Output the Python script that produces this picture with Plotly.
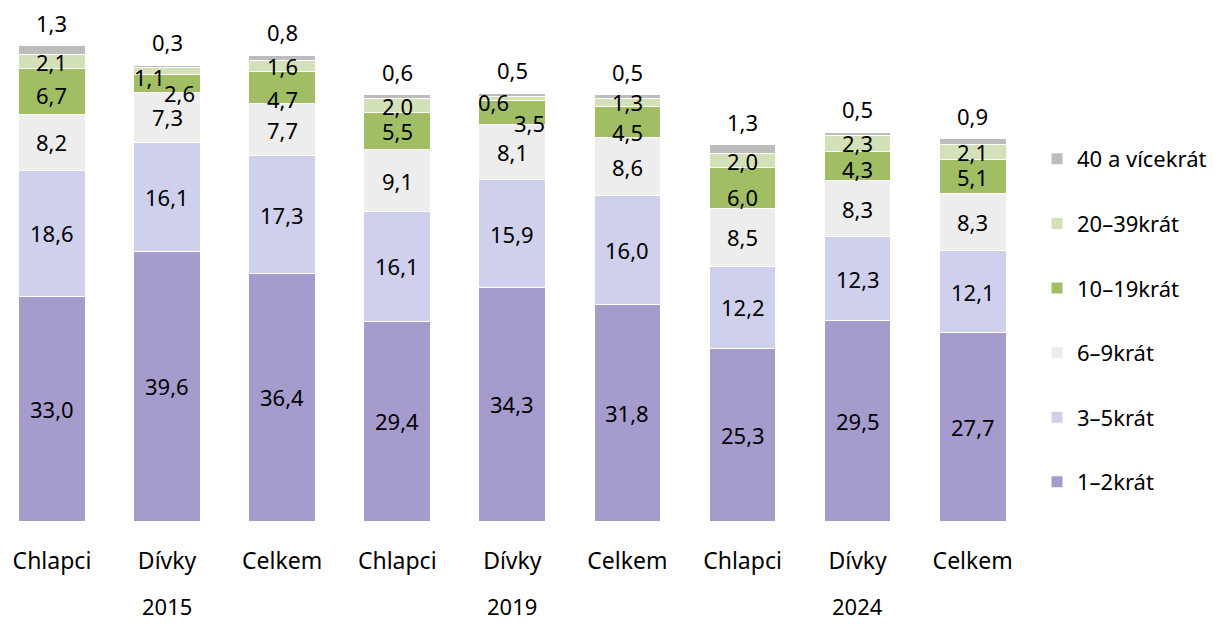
import plotly.graph_objects as go

categories = ["Chlapci", "Dívky", "Celkem", "Chlapci", "Dívky", "Celkem", "Chlapci", "Dívky", "Celkem"]
years = ["2015", "2019", "2024"]

s_1_2 = [33.0, 39.6, 36.4, 29.4, 34.3, 31.8, 25.3, 29.5, 27.7]
s_3_5 = [18.6, 16.1, 17.3, 16.1, 15.9, 16.0, 12.2, 12.3, 12.1]
s_6_9 = [8.2, 7.3, 7.7, 9.1, 8.1, 8.6, 8.5, 8.3, 8.3]
s_10_19 = [6.7, 2.6, 4.7, 5.5, 3.5, 4.5, 6.0, 4.3, 5.1]
s_20_39 = [2.1, 1.1, 1.6, 2.0, 0.6, 1.3, 2.0, 2.3, 2.1]
s_40 = [1.3, 0.3, 0.8, 0.6, 0.5, 0.5, 1.3, 0.5, 0.9]

series_names = ["1–2krát", "3–5krát", "6–9krát", "10–19krát", "20–39krát", "40 a vícekrát"]
series_values = [s_1_2, s_3_5, s_6_9, s_10_19, s_20_39, s_40]
colors = ["#A59BCD", "#CFD0EB", "#EDEDED", "#A1BE65", "#D3E1B9", "#BCBCBC"]

# label nudges (px) for crowded segments: (category index, series index) -> (dx, dy)
nudges = {
    (0, 3): (0, -3),
    (1, 4): (-18, -6), (1, 3): (12, -9),
    (2, 3): (0, -11),
    (4, 4): (-19, -3), (4, 3): (17, -10),
    (5, 3): (0, -10),
    (6, 3): (0, -9),
    (7, 3): (0, -3),
}

FONT = "Noto Sans"
FS = 22
FS_TXT = 23
FS_LEG = 22

W, H = 1205, 611  # page adds an 8px body margin around the figure

def fmt(v):
    return f"{v:.1f}".replace(".", ",")

x = list(range(len(categories)))
fig = go.Figure()
n = len(series_names)
for i, (name, vals, col) in enumerate(zip(series_names, series_values, colors)):
    fig.add_trace(go.Bar(
        x=x, y=vals, name=name, marker=dict(color=col, line=dict(color="white", width=1)),
        width=0.58, legendgroup=name, legendrank=n - i, hoverinfo="skip",
    ))

annotations = []
cum = [0.0] * len(categories)
for si, vals in enumerate(series_values):
    for ci, v in enumerate(vals):
        if si == len(series_values) - 1:
            annotations.append(dict(x=ci, y=cum[ci] + v, text=fmt(v), showarrow=False,
                                    yshift=23, font=dict(family=FONT, size=FS, color="black")))
        else:
            dx, dy = nudges.get((ci, si), (0, 0))
            annotations.append(dict(x=ci, y=cum[ci] + v / 2, text=fmt(v), showarrow=False,
                                    xshift=dx, yshift=dy,
                                    font=dict(family=FONT, size=FS, color="black")))
        cum[ci] += v

for i, yr in enumerate(years):
    annotations.append(dict(x=3 * i + 1, y=0, yref="paper", text=yr, showarrow=False,
                            yshift=-85, yanchor="middle",
                            font=dict(family=FONT, size=FS, color="black")))

fig.update_layout(
    barmode="stack",
    width=W, height=H,
    margin=dict(l=0, r=177, t=3, b=98, autoexpand=False),
    paper_bgcolor="white", plot_bgcolor="white",
    font=dict(family=FONT, size=FS, color="black"),
    xaxis=dict(tickvals=x, ticktext=categories, range=[-0.382, 8.55], showgrid=False,
               zeroline=False, showline=False, ticks="", ticklabelstandoff=24, automargin=False,
               tickfont=dict(family=FONT, size=FS_TXT, color="black")),
    yaxis=dict(range=[0, 75], visible=False, showgrid=False, zeroline=False, automargin=False),
    legend=dict(traceorder="grouped", xref="container", yref="container",
                x=1029 / W, y=1 - 130 / H, xanchor="left", yanchor="top",
                tracegroupgap=33, maxheight=1.0,
                font=dict(family=FONT, size=FS_LEG, color="black"),
                bgcolor="rgba(0,0,0,0)"),
    annotations=annotations,
    bargap=0.42,
)

fig.write_html("out.html")
